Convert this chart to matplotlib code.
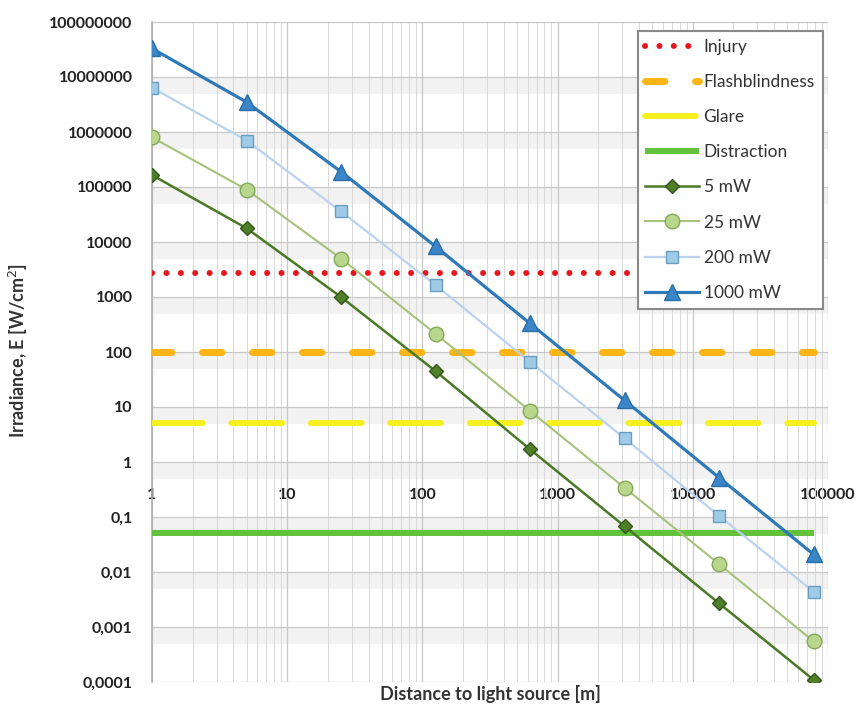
import numpy as np
import matplotlib
matplotlib.use("Agg")
import matplotlib.pyplot as plt
from matplotlib.ticker import NullFormatter, LogLocator

plt.rcParams['font.family'] = ['Lato', 'DejaVu Sans']

# ---- data ----
distance = [1, 5, 25, 125, 625, 3125, 15625, 78125]
mw5 = [165000, 17800, 1000, 45, 1.7, 0.068, 0.0027, 0.00011]
mw25 = [800000, 90000, 5000, 215, 8.5, 0.34, 0.014, 0.00055]
mw200 = [6400000, 700000, 36000, 1650, 66, 2.7, 0.105, 0.0044]
mw1000 = [33000000, 3500000, 190000, 8300, 330, 13.2, 0.52, 0.021]

injury = 2700
flashblindness = 102
glare = 5.2
distraction = 0.051

y_ticks = [1e-4, 1e-3, 1e-2, 1e-1, 1, 10, 100, 1000, 10000, 100000,
           1000000, 10000000, 100000000]
y_ticklabels = ["0,0001", "0,001", "0,01", "0,1", "1", "10", "100", "1000",
                "10000", "100000", "1000000", "10000000", "100000000"]
x_ticks = [1, 10, 100, 1000, 10000, 100000]
x_ticklabels = ["1", "10", "100", "1000", "10000", "100000"]

fig = plt.figure(figsize=(8.59, 7.04), dpi=100)
ax = fig.add_axes([152/859, 1-682/704, (828-152)/859, (682-22)/704])
ax.set_xscale('log')
ax.set_yscale('log')
ax.set_xlim(1, 100000)
ax.set_ylim(1e-4, 1e8)

# background bands near top of each decade
for n in range(-4, 8):
    ax.axhspan(0.5 * 10**n, 10**n, color='#f2f2f2', zorder=0, lw=0)

# grid
ax.yaxis.set_minor_locator(LogLocator(base=10, subs=np.arange(2, 10)))
ax.xaxis.set_minor_locator(LogLocator(base=10, subs=np.arange(2, 10)))
ax.yaxis.set_minor_formatter(NullFormatter())
ax.xaxis.set_minor_formatter(NullFormatter())
ax.grid(which='major', color='#c8c8c8', lw=0.9, zorder=1)
ax.grid(which='minor', color='#d8d8d8', lw=0.7, zorder=1)
ax.set_axisbelow(True)

ax.set_yticks(y_ticks)
ax.set_yticklabels(y_ticklabels)
ax.set_xticks(x_ticks)
ax.set_xticklabels(x_ticklabels)
for s in ['top', 'right']:
    ax.spines[s].set_visible(False)
ax.spines['left'].set_color('#b0b0b0')
ax.spines['left'].set_linewidth(1.2)
ax.spines['bottom'].set_position(('data', 1))
ax.spines['bottom'].set_visible(False)
ax.tick_params(axis='both', which='both', length=0)
ax.tick_params(axis='y', pad=14, labelsize=11.5, labelcolor='#222222')
ax.tick_params(axis='x', pad=19, labelsize=11.5, labelcolor='#222222')
for lab in ax.get_xticklabels() + ax.get_yticklabels():
    lab.set_fontweight('bold')

x = distance
# threshold lines
ax.plot([x[0], x[-1]], [injury]*2, color='#e8141b', lw=4.3,
        linestyle=(0, (0.01, 2.4)), dash_capstyle='round', label='Injury', zorder=3)
ax.plot([x[0], x[-1]], [flashblindness]*2, color='#fdb515', lw=5,
        linestyle=(0, (2.8, 4.4)), dash_capstyle='round', label='Flashblindness', zorder=3)
ax.plot([x[0], x[-1]], [glare]*2, color='#f5f01e', lw=4.3,
        linestyle=(0, (8.5, 4.8)), dash_capstyle='round', label='Glare', zorder=3)
ax.plot([x[0], x[-1]], [distraction]*2, color='#62c23c', lw=4.3,
        solid_capstyle='butt', label='Distraction', zorder=3)

# series
ax.plot(x, mw5, color='#4a7a25', lw=1.8, marker='D', ms=7.5,
        mfc='#4f7f2a', mec='#35561a', mew=1, label='5 mW', zorder=5)
ax.plot(x, mw25, color='#a6c27a', lw=1.5, marker='o', ms=10.5,
        mfc='#b8d68c', mec='#86a85a', mew=1, label='25 mW', zorder=5)
ax.plot(x, mw200, color='#b9d3ee', lw=1.6, marker='s', ms=9,
        mfc='#9fcbe6', mec='#6a9ec0', mew=1, label='200 mW', zorder=5)
ax.plot(x, mw1000, color='#2e7ab9', lw=2.3, marker='^', ms=11,
        mfc='#3a86c8', mec='#2a6ea8', mew=1, label='1000 mW', zorder=5)

leg = ax.legend(loc='upper right', bbox_to_anchor=(0.992, 0.986), borderaxespad=0,
                fontsize=12.5, labelspacing=1.1, handlelength=3.1, handletextpad=0.25,
                fancybox=False, framealpha=1, edgecolor='#8a8a8a', borderpad=0.45)
leg.get_frame().set_linewidth(1.5)
leg.set_zorder(10)
for t in leg.get_texts():
    t.set_color('#333333')

fig.text(18/859, 1-350/704, 'Irradiance, E [W/cm$^2$]', rotation=90, ha='center',
         va='center', fontsize=13, fontweight='bold', color='#333333')
fig.text(490/859, 1-694/704, 'Distance to light source [m]', ha='center',
         va='center', fontsize=13, fontweight='bold', color='#333333')

fig.savefig('out.png', dpi=100)
